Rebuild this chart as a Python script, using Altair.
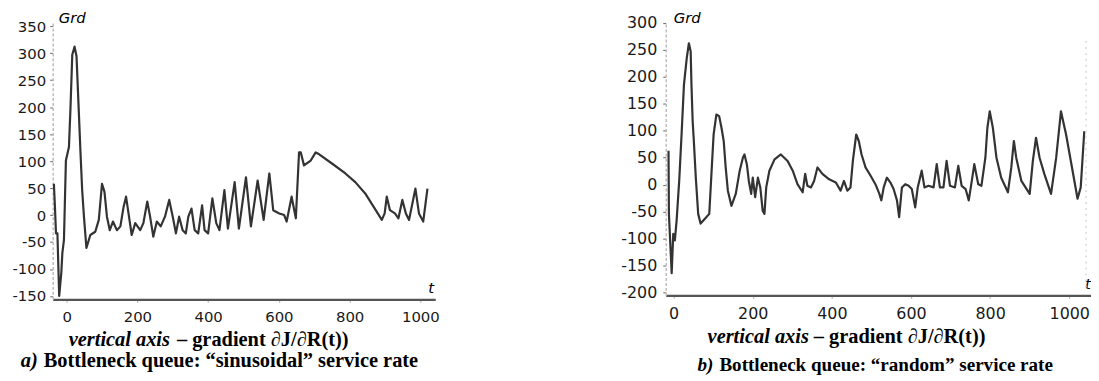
import altair as alt
import pandas as pd

# ---------------- data ----------------
# panel a) "sinusoidal" service rate
t_a = [-36, -33, -30, -26, -21, -15, -12, -7.5, -2, 6.6, 11, 16, 22.5, 28, 34, 39, 44, 49, 56, 67,
       81, 91, 100, 107, 114, 122, 131, 142, 152, 161, 168, 175, 184, 194, 208, 217, 228, 236, 245, 255,
       266, 278, 290, 300, 309, 318, 328, 337, 344, 353, 362, 372, 383, 390, 400, 412, 423, 432, 446, 456,
       475, 487, 507, 521, 540, 557, 573, 584, 601, 615, 622, 636, 648, 657, 662, 671, 690, 704, 713, 751,
       788, 816, 844, 868, 891, 899, 905, 914, 928, 938, 949, 959, 968, 986, 996, 1008, 1020]
grd_a = [58, 15, -34, -34, -150, -107, -70, -46, 101, 126, 199, 297, 312, 294, 199, 119, 46, -3, -61, -37,
         -31, -9, 58, 43, -3, -28, -12, -28, -21, 15, 34, 3, -37, -15, -28, -15, 25, -3, -40, -12,
         -21, -3, 28, -3, -34, -3, -28, -34, -3, 12, -28, -34, 18, -28, -34, 31, -15, -28, 46, -25,
         61, -25, 70, -21, 64, -9, 77, 9, 3, 0, -12, 34, -6, 116, 116, 92, 101, 116, 113, 95,
         77, 61, 40, 15, -9, 3, 34, 9, 3, -6, 28, 3, -9, 49, 3, -12, 49]

# panel b) "random" service rate
t_b = [-13, -12, -5, -1, 3, 7.5, 14, 20, 26, 33, 38.5, 43, 45, 48, 51, 56, 62, 68, 79, 90,
       95.5, 101, 108, 115, 121, 126.5, 131.5, 137, 146, 157, 167, 175, 179, 185, 190, 196, 200, 206, 213, 219,
       225, 229.5, 234, 242, 255, 271, 288, 301, 313, 326, 332.5, 338, 347, 355, 363.5, 376, 393, 410, 422, 430.5,
       439, 447, 453, 461.5, 468, 475, 485, 497.5, 510, 520, 525, 531, 539, 548, 556, 564.5, 570, 577, 585.5, 594,
       602, 610.6, 617, 627, 634, 644, 657, 665, 673, 682, 690, 698.6, 711, 719.5, 728, 738, 746, 753, 760, 770,
       778, 788, 793, 799, 807, 816, 828, 845, 853.5, 860, 866, 879, 900, 908, 916, 925, 937, 954, 967, 979,
       992, 1004, 1021, 1029, 1038]
grd_b = [63, -54, -164, -91, -103, -66, 7, 93, 185, 234, 262, 247, 185, 118, 81, 13, -54, -72, -63, -54,
         20, 93, 130, 127, 105, 81, 32, -11, -39, -17, 26, 50, 56, 38, 7, -17, 13, -23, 13, -5,
         -48, -54, -5, 26, 47, 56, 44, 26, 1, -14, 20, -2, -5, 7, 32, 20, 10, 4, -11, 7,
         -11, -5, 44, 93, 81, 56, 32, 17, 1, -17, -29, -5, 13, 4, -8, -29, -60, -5, 1, -2,
         -8, -42, -5, 26, -5, -2, -5, 38, -5, -5, 44, -2, -5, 35, -2, -8, -29, 4, 38, 1,
         -2, 50, 105, 136, 105, 50, 13, -14, 32, 81, 50, 7, -17, 44, 87, 50, 20, -17, 50, 136,
         93, 44, -26, -5, 99]

x_ticks = [0, 200, 400, 600, 800, 1000]
y_ticks_a = [-150, -100, -50, 0, 50, 100, 150, 200, 250, 300, 350]
y_ticks_b = [-200, -150, -100, -50, 0, 50, 100, 150, 200, 250, 300]

cap_a = ["vertical axis", "– gradient ∂J/∂R(t))", "a)", "Bottleneck queue: “sinusoidal” service rate"]
cap_b = ["vertical axis", "– gradient ∂J/∂R(t))", "b)", "Bottleneck queue: “random” service rate"]

LINE = "#333333"
SANS = "DejaVu Sans"
SERIF = "Liberation Serif"
one = pd.DataFrame({"k": [0]})
PLAIN = "'' + datum.value"


def txt(text, x, y, size, font, style="normal", weight="normal", align="left", baseline="middle", color="black"):
    return alt.Chart(one).mark_text(
        text=text, font=font, fontSize=size, fontStyle=style, fontWeight=weight,
        align=align, baseline=baseline, color=color
    ).encode(x=alt.value(x), y=alt.value(y))


def panel(t, g, xdom, ydom, yticks, w, h, lab_size, ylab_pad, grd_x, t_pos, caps, cap_pos, cap_sizes,
          extra=None):
    df = pd.DataFrame({"t": t, "grd": g})
    line = alt.Chart(df).mark_line(color=LINE, strokeWidth=2.2, strokeJoin="round").encode(
        x=alt.X("t:Q", scale=alt.Scale(domain=xdom, nice=False, zero=False),
                axis=alt.Axis(values=x_ticks, title=None, grid=False, domainColor="#555", domainWidth=2.2,
                              tickSize=3, tickColor="#aaa", labelFont=SANS, labelFontSize=lab_size,
                              labelColor="#1a1a1a", labelPadding=7, labelFlush=False, labelOverlap=False,
                              labelExpr=PLAIN)),
        y=alt.Y("grd:Q", scale=alt.Scale(domain=ydom, nice=False, zero=False),
                axis=alt.Axis(values=yticks, title=None, grid=False, domainColor="#bdbdbd", domainDash=[3, 2],
                              domainWidth=1.5, tickSize=3, tickColor="#666", labelFont=SANS,
                              labelFontSize=lab_size, labelColor="#1a1a1a", labelPadding=ylab_pad,
                              labelFlush=False, labelOverlap=False, labelExpr=PLAIN)),
    )
    s1, s2 = cap_sizes
    layers = [line,
              txt("Grd", grd_x, 1, 15, SANS, style="italic", baseline="alphabetic"),
              txt("t", t_pos[0], t_pos[1], 15, SANS, style="italic", align="center"),
              txt(caps[0], cap_pos[0], cap_pos[1], s1, SERIF, style="italic", weight="bold", align="right"),
              txt(caps[1], cap_pos[2], cap_pos[1], s1, SERIF, weight="bold", align="left"),
              txt(caps[2], cap_pos[3], cap_pos[4], s2, SERIF, style="italic", weight="bold", align="right"),
              txt(caps[3], cap_pos[5], cap_pos[4], s2, SERIF, weight="bold", align="left")]
    if extra is not None:
        layers.append(extra)
    return alt.layer(*layers).properties(width=w, height=h)


chart_a = panel(t_a, grd_a, [-39.3, 1042], [-156.1, 357.4], y_ticks_a, 385, 279, 15, 4,
                6, (381, 268), cap_a, (118, 320, 125, -15, 341, -9), (20.5, 20.5))

rule_b = alt.Chart(one).mark_rule(color="#cfcfcf", strokeDash=[2, 4], strokeWidth=1.2).encode(
    x=alt.value(423), y=alt.value(19), y2=alt.value(269))

chart_b = panel(t_b, grd_b, [-20, 1055], [-204.9, 301.2], y_ticks_b, 428, 275, 16, 6,
                8, (425, 264), cap_b, (144, 317, 149, 48, 345, 54), (20.5, 19.2), extra=rule_b)

chart = alt.hconcat(chart_a, chart_b, spacing=232, bounds="flush").properties(
    padding={"left": 3, "top": 2, "right": 0, "bottom": 0},
    background="white",
).configure_view(stroke=None)

chart.save("out.html", embed_options={"renderer": "svg", "actions": False})
